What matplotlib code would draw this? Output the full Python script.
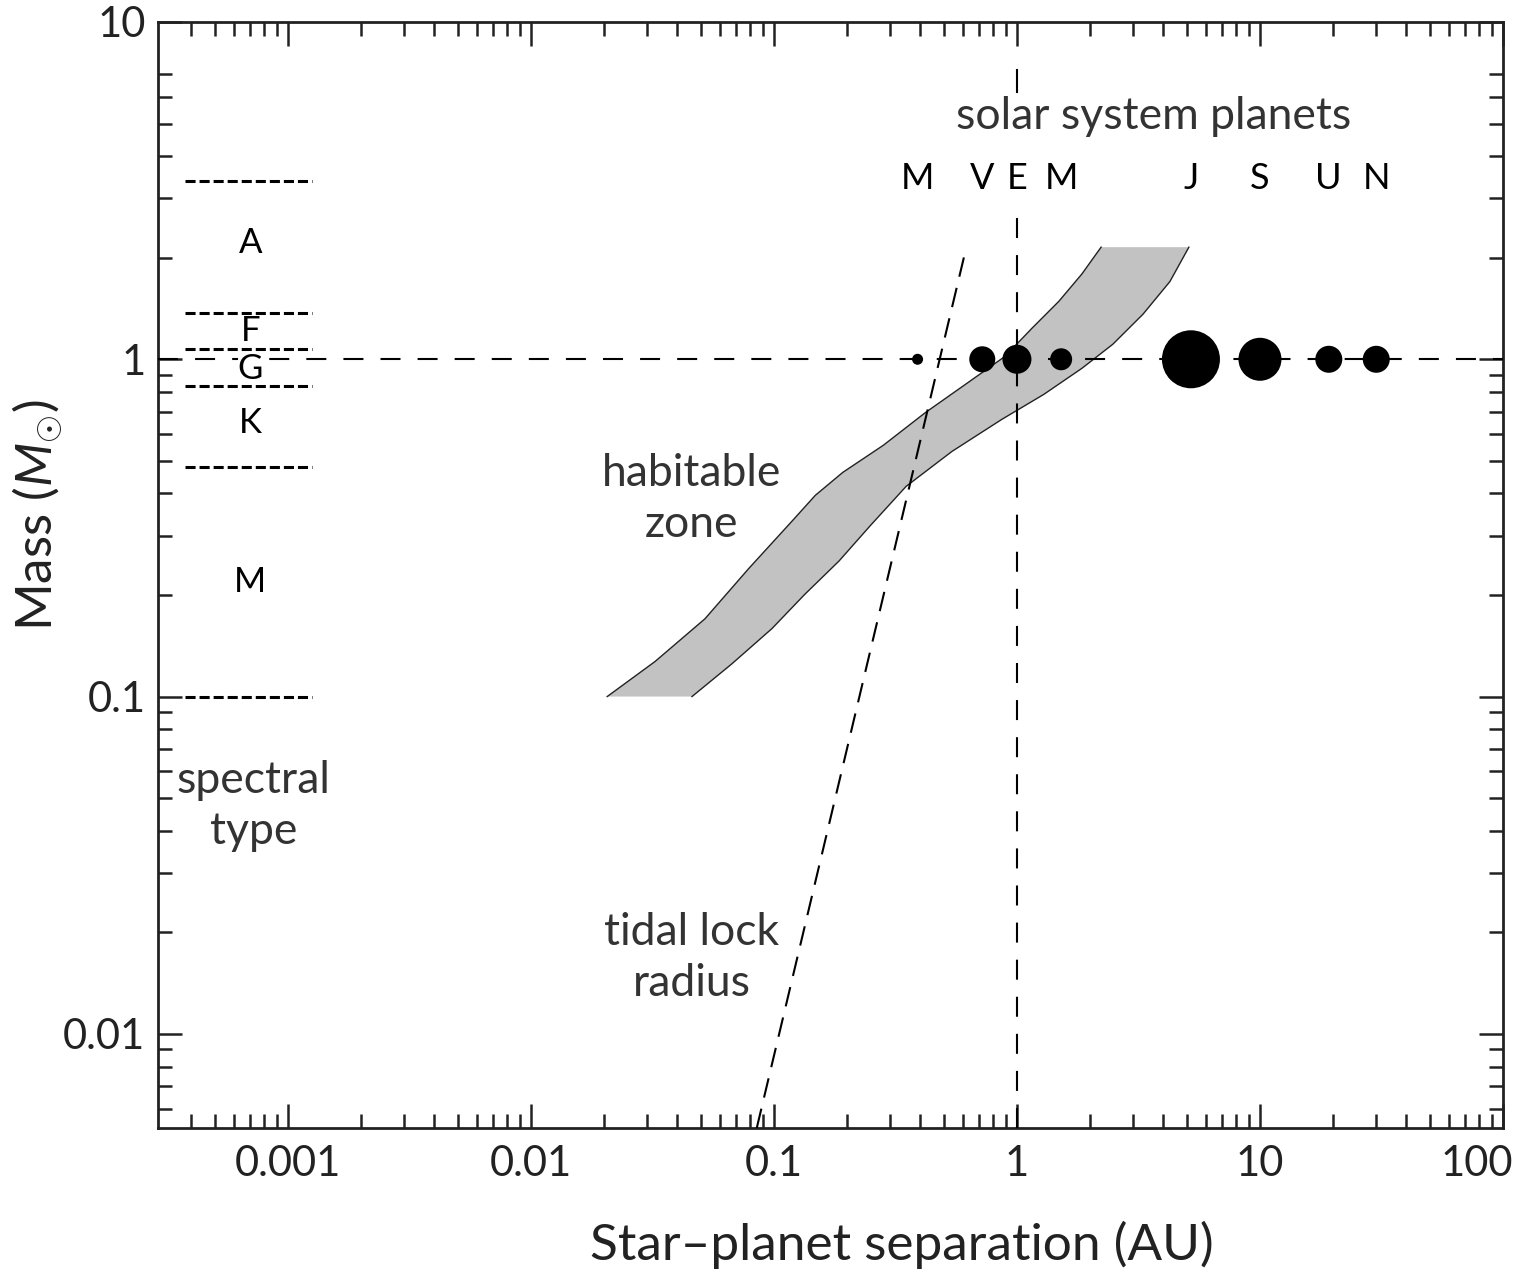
import matplotlib
matplotlib.use('Agg')
import matplotlib.pyplot as plt
from matplotlib.ticker import FixedLocator, NullFormatter
from matplotlib.transforms import ScaledTranslation

plt.rcParams['font.family'] = ['Lato', 'DejaVu Sans']
plt.rcParams['mathtext.fontset'] = 'custom'
plt.rcParams['mathtext.rm'] = 'Lato'
plt.rcParams['mathtext.it'] = 'Lato:italic'

# habitable zone edges (separation AU, stellar mass)
hz_inner_a = [0.0206, 0.0324, 0.052, 0.0789, 0.1186, 0.148, 0.192, 0.282, 0.420, 0.623, 0.893, 1.153, 1.488, 1.85, 2.22]
hz_inner_m = [0.100, 0.127, 0.170, 0.240, 0.331, 0.395, 0.462, 0.556, 0.695, 0.849, 1.02, 1.236, 1.486, 1.79, 2.15]
hz_outer_a = [0.046, 0.0671, 0.0981, 0.134, 0.185, 0.250, 0.350, 0.540, 0.868, 1.29, 1.85, 2.48, 3.30, 4.26, 5.10]
hz_outer_m = [0.100, 0.125, 0.159, 0.201, 0.252, 0.322, 0.420, 0.533, 0.664, 0.787, 0.940, 1.108, 1.36, 1.70, 2.15]

# tidal lock radius line
tidal_a = [0.085, 0.62]
tidal_m = [0.00526, 2.16]

# solar system planets
planet_names = ['M', 'V', 'E', 'M', 'J', 'S', 'U', 'N']
planet_a = [0.39, 0.72, 1.0, 1.52, 5.2, 10.0, 19.2, 30.1]
planet_diam_px = [11, 26, 29, 22, 58, 43, 27, 27]

# spectral type boundaries and labels
spec_bounds = [3.38, 1.37, 1.07, 0.832, 0.478, 0.1]
spec_x = [3.77e-4, 1.26e-3]
spec_names = ['A', 'F', 'G', 'K', 'M']
spec_mid = [2.21, 1.21, 0.934, 0.646, 0.219]

fig = plt.figure(figsize=(15.22, 12.79), dpi=100)
ax = fig.add_axes([0.1038, 0.1181, 0.8837, 0.8647])
ax.set_xscale('log')
ax.set_yscale('log')
ax.set_xlim(2.92e-4, 100)
ax.set_ylim(0.00526, 10)

# habitable zone band
ax.fill(hz_inner_a + hz_outer_a[::-1], hz_inner_m + hz_outer_m[::-1],
        color='#c2c2c2', lw=0, zorder=1)
ax.plot(hz_inner_a, hz_inner_m, color='#222222', lw=1.0, zorder=2, solid_joinstyle='round')
ax.plot(hz_outer_a, hz_outer_m, color='#222222', lw=1.0, zorder=2, solid_joinstyle='round')

# reference lines
dash = (0, (9.6, 8.2))
ax.plot([2.92e-4, 100], [1, 1], color='black', lw=1.5, ls=dash, zorder=3)
ax.plot([1, 1], [0.00526, 2.84], color='black', lw=1.5, ls=dash, zorder=3)
ax.plot([1, 1], [6.2, 7.2], color='black', lw=1.5, zorder=3)
ax.plot(tidal_a, tidal_m, color='black', lw=1.5, ls=(0, (9.5, 5.5)), zorder=3)

# planets
sizes = [(d * 0.72) ** 2 for d in planet_diam_px]
ax.scatter(planet_a, [1] * len(planet_a), s=sizes, color='black', lw=0, zorder=4)
for name, a in zip(planet_names, planet_a):
    ax.text(a, 3.44, name, ha='center', va='center', fontsize=26, color='black', zorder=5)

# spectral types
for m in spec_bounds:
    ax.plot(spec_x, [m, m], color='black', lw=2.2, ls=(0, (3.3, 1.3)), zorder=3)
for name, m in zip(spec_names, spec_mid):
    ax.text(7.0e-4, m, name, ha='center', va='center', fontsize=25, color='black',
            bbox=dict(facecolor='white', edgecolor='none', pad=0), zorder=5)

txt = dict(ha='center', va='center', fontsize=32, color='#333333', linespacing=1.3)
ax.text(3.66, 5.26, 'solar system planets', zorder=5, **txt)
ax.text(0.046, 0.385, 'habitable\nzone', **txt)
ax.text(0.046, 0.0168, 'tidal lock\nradius', **txt)
ax.text(7.2e-4, 0.0475, 'spectral\ntype', **txt)

# ticks
ax.xaxis.set_major_locator(FixedLocator([1e-3, 1e-2, 1e-1, 1, 10, 100]))
ax.set_xticklabels(['0.001', '0.01', '0.1', '1', '10', '100'])
xminor = [s * 10 ** e for e in range(-4, 2) for s in range(2, 10) if s * 10 ** e > 3.5e-4]
ax.xaxis.set_minor_locator(FixedLocator(xminor))
ax.yaxis.set_major_locator(FixedLocator([0.01, 0.1, 1, 10]))
ax.set_yticklabels(['0.01', '0.1', '1', '10'])
yminor = [s * 10 ** e for e in range(-3, 1) for s in range(2, 10) if 0.0053 < s * 10 ** e < 7.5]
ax.yaxis.set_minor_locator(FixedLocator(yminor))
ax.xaxis.set_minor_formatter(NullFormatter())
ax.yaxis.set_minor_formatter(NullFormatter())

ax.tick_params(which='both', direction='in', top=True, right=True, colors='#222222',
               labelcolor='#222222')
ax.tick_params(which='major', length=17, width=1.8, labelsize=30)
ax.tick_params(which='minor', length=10, width=1.8)
ax.tick_params(axis='x', which='major', pad=12)
ax.tick_params(axis='y', which='major', pad=9)
for sp in ax.spines.values():
    sp.set_linewidth(2.0)
    sp.set_color('#222222')

lbl = ax.get_xticklabels()[-1]
lbl.set_transform(lbl.get_transform() + ScaledTranslation(-0.26, 0, fig.dpi_scale_trans))

ax.set_xlabel('Star\u2013planet separation (AU)', fontsize=37, color='#222222')
ax.xaxis.label.set_va('center')
ax.xaxis.set_label_coords(0.553, -0.106)
ax.set_ylabel(r'Mass ($M_{\odot}$)', fontsize=37, color='#222222')
ax.yaxis.label.set_va('center')
ax.yaxis.set_label_coords(-0.089, 0.554)

fig.savefig('out.png', dpi=100)
